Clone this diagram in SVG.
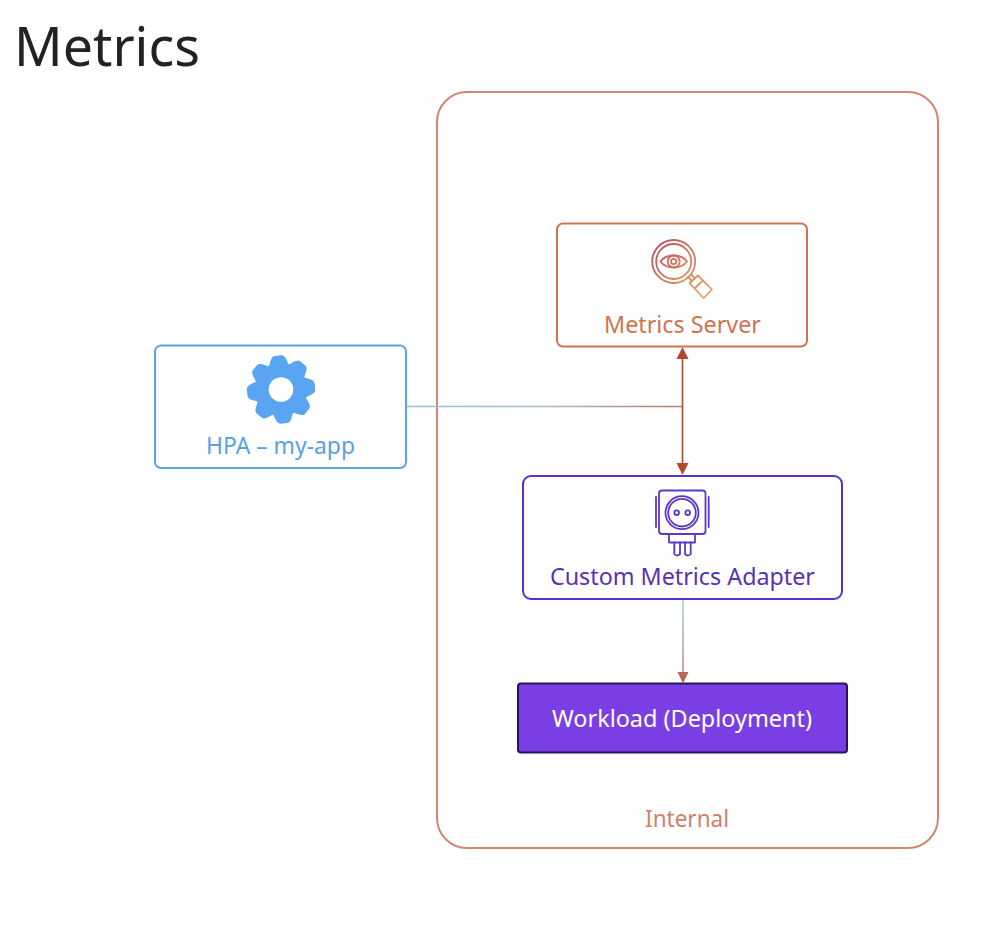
<svg xmlns="http://www.w3.org/2000/svg" width="1005" height="941" viewBox="0 0 1005 941">
<style>
text{font-family:"Noto Sans","Open Sans","Liberation Sans",sans-serif;text-anchor:middle}
.lbl{font-size:23px}
.box{fill:#fff;stroke-width:2}
.ico{fill:none;stroke-width:1.800;stroke-linejoin:round;stroke-linecap:round}
</style>
<defs>
<linearGradient id="gH" gradientUnits="userSpaceOnUse" x1="408" y1="0" x2="682" y2="0"><stop offset="0" stop-color="#8cc4ea"/><stop offset="0.5" stop-color="#a9bcc6"/><stop offset="1" stop-color="#b87a6a"/></linearGradient>
<linearGradient id="gV" gradientUnits="userSpaceOnUse" x1="0" y1="600" x2="0" y2="675"><stop offset="0" stop-color="#86c2e6"/><stop offset="1" stop-color="#aa6458"/></linearGradient>
<linearGradient id="gM" gradientUnits="userSpaceOnUse" x1="653" y1="245" x2="712" y2="295"><stop offset="0" stop-color="#b94f68"/><stop offset="0.5" stop-color="#d28560"/><stop offset="1" stop-color="#e2ac62"/></linearGradient>
<path id="tooth" d="M-10,-24C-8,-29 -7,-34 -3,-34H3C7,-34 8,-29 10,-24Z" fill="#5aa5f2"/>
</defs>
<rect width="1005" height="941" fill="#fff"/>
<text x="107" y="66" font-size="55" fill="#222" textLength="186" lengthAdjust="spacingAndGlyphs">Metrics</text>
<g id="internal">
<rect x="437" y="92" width="501" height="756" rx="30" fill="#fff" stroke="#d08672" stroke-width="2"/>
<text class="lbl" x="687" y="827" fill="#cf7f6a" textLength="84" lengthAdjust="spacingAndGlyphs">Internal</text>
</g>
<g id="metrics-server">
<rect class="box" x="557" y="223.500" width="250" height="123" rx="6" stroke="#cd7552"/>
<g class="ico" stroke="url(#gM)">
<circle cx="673.700" cy="261.500" r="21.500"/>
<circle cx="673.700" cy="261.500" r="17.500"/>
<path d="M660.500,261.500C666,253.500 681.500,253.500 687,261.500C681.500,269.500 666,269.500 660.500,261.500Z"/>
<circle cx="673.700" cy="261.500" r="6"/>
<circle cx="673.700" cy="261.500" r="2.700"/>
<path d="M688,277L692,281M691,274.500L695,278.500"/>
<path d="M689.500,283L698,275.500L712,289.700L703.500,298Z"/>
<path d="M695,288L703,280.500"/>
</g>
<text class="lbl" x="682.500" y="333" fill="#cf7352" textLength="157" lengthAdjust="spacingAndGlyphs">Metrics Server</text>
</g>
<g id="hpa">
<rect class="box" x="155" y="345.500" width="251" height="122.500" rx="6" stroke="#5ca4ea"/>
<g transform="translate(281,389.500)">
<circle r="26.500" fill="#5aa5f2"/>
<use href="#tooth" transform="rotate(-5)"/>
<use href="#tooth" transform="rotate(40)"/>
<use href="#tooth" transform="rotate(85)"/>
<use href="#tooth" transform="rotate(130)"/>
<use href="#tooth" transform="rotate(175)"/>
<use href="#tooth" transform="rotate(220)"/>
<use href="#tooth" transform="rotate(265)"/>
<use href="#tooth" transform="rotate(310)"/>
<circle r="12.300" fill="#fff"/>
</g>
<text class="lbl" x="280.500" y="454" fill="#5a9fe2" textLength="149" lengthAdjust="spacingAndGlyphs">HPA – my-app</text>
</g>
<g id="custom-metrics-adapter">
<rect class="box" x="523" y="476" width="319" height="123" rx="8" stroke="#5b30c2"/>
<g class="ico" stroke="#5d38c8">
<rect x="659" y="490.500" width="46.500" height="43.500" rx="3"/>
<path d="M656,497V527M708.700,497V527"/>
<circle cx="682" cy="512.700" r="16.500"/>
<circle cx="682" cy="512.700" r="13.800"/>
<circle cx="676.700" cy="512.700" r="2.300"/>
<circle cx="687.700" cy="512.700" r="2.300"/>
<path d="M669,534V542.500H695V534"/>
<path d="M674.300,542.500V554Q677,557 680,554V542.500M685,542.500V554Q688,557 690.700,554V542.500"/>
</g>
<text class="lbl" x="682.500" y="585" fill="#5a30b8" textLength="265" lengthAdjust="spacingAndGlyphs">Custom Metrics Adapter</text>
</g>
<g id="workload">
<rect x="518" y="683.500" width="329" height="69" rx="3" fill="#7a3fe4" stroke="#28125e" stroke-width="2"/>
<text class="lbl" x="682" y="727" fill="#fff" textLength="260" lengthAdjust="spacingAndGlyphs">Workload (Deployment)</text>
</g>
<g id="connectors" fill="none">
<path d="M407,406.500H682" stroke="url(#gH)" stroke-width="1.500"/>
<path d="M682.500,358V465" stroke="#a5563f" stroke-width="1.700"/>
<path d="M683,600V675" stroke="url(#gV)" stroke-width="1.200"/>
<path d="M682.500,347L688.500,359H676.500Z" fill="#b04a2c"/>
<path d="M682.500,475L688.500,463H676.500Z" fill="#b04a2c"/>
<path d="M683,683.500L677.500,672H688.500Z" fill="#b8695a"/>
</g>
</svg>
